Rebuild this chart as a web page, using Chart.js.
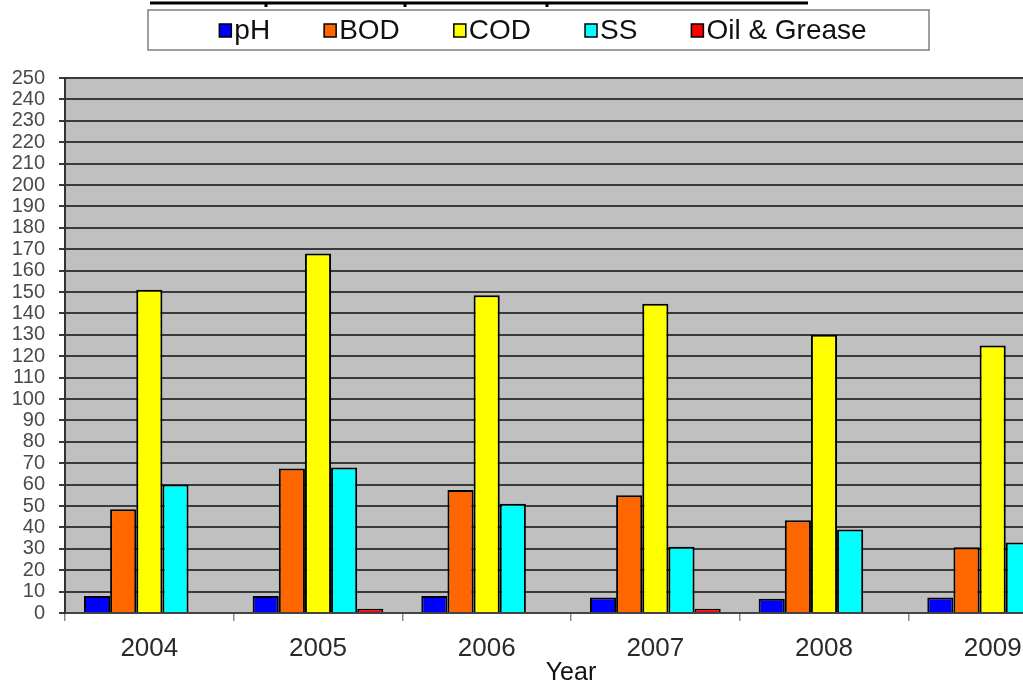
<!DOCTYPE html>
<html>
<head>
<meta charset="utf-8">
<script src="https://cdn.jsdelivr.net/npm/chart.js@4/dist/chart.umd.min.js"></script>
<style>
  html, body { margin: 0; padding: 0; background: #fff; overflow: hidden; }
  #wrap { width: 1080px; height: 688px; }
</style>
</head>
<body>
<div id="wrap"><canvas id="chart" width="1080" height="688"></canvas></div>
<script>
// data
const years = ['2004', '2005', '2006', '2007', '2008', '2009'];
const ph    = [8, 8, 8, 7.3, 6.7, 7.3];
const bod   = [48.5, 67.5, 57.5, 55, 43.3, 30.7];
const cod   = [151, 168, 148.5, 144.5, 130, 125];
const ss    = [60, 68, 51, 31, 39, 33];
const oil   = [0, 2, 0.3, 2, 0.3, 0];
const yTicks = [0, 10, 20, 30, 40, 50, 60, 70, 80, 90, 100, 110, 120, 130, 140, 150,
                160, 170, 180, 190, 200, 210, 220, 230, 240, 250];

const FONT = '"Liberation Sans", Arial, sans-serif';

// grey plot area + cut-off title underline
const fondo = {
    id: 'fondo',
    beforeDraw(chart) {
        const { ctx, chartArea: a } = chart;
        ctx.save();
        ctx.fillStyle = '#c0c0c0';
        ctx.fillRect(a.left, a.top, a.right - a.left, a.bottom - a.top);
        ctx.strokeStyle = '#000';
        ctx.lineWidth = 3;
        ctx.beginPath();
        ctx.moveTo(150, 3); ctx.lineTo(808, 3);
        [266, 405, 547].forEach(x => { ctx.moveTo(x, 3); ctx.lineTo(x, 7); });
        ctx.stroke();
        ctx.restore();
    }
};

// boxed legend with markers stuck to the text
const legenda = {
    id: 'legenda',
    afterDraw(chart) {
        const { ctx } = chart;
        ctx.save();
        ctx.fillStyle = '#fff';
        ctx.fillRect(148, 10, 781, 40);
        ctx.strokeStyle = '#7f7f7f';
        ctx.lineWidth = 1.5;
        ctx.strokeRect(148, 10, 781, 40);
        ctx.font = '28px ' + FONT;
        ctx.textBaseline = 'middle';
        const box = 12, gap = 3, space = 54;
        const sets = chart.data.datasets;
        const widths = sets.map(d => box + gap + ctx.measureText(d.label).width);
        const total = widths.reduce((s, w) => s + w, 0) + space * (sets.length - 1);
        let x = 543 - total / 2;
        sets.forEach((d, i) => {
            ctx.fillStyle = d.backgroundColor;
            ctx.fillRect(x, 24, box, 13);
            ctx.strokeStyle = '#000';
            ctx.lineWidth = 1.5;
            ctx.strokeRect(x, 24, box, 13);
            ctx.fillStyle = '#111';
            ctx.fillText(d.label, x + box + gap, 31);
            x += widths[i] + space;
        });
        ctx.restore();
    }
};

const serie = (label, data, color) => ({
    label, data, backgroundColor: color, borderColor: '#000', borderWidth: 2,
    barPercentage: 1, categoryPercentage: 0.775
});

new Chart(document.getElementById('chart'), {
    type: 'bar',
    data: {
        labels: years,
        datasets: [
            serie('pH', ph, '#0000ff'),
            serie('BOD', bod, '#ff6600'),
            serie('COD', cod, '#ffff00'),
            serie('SS', ss, '#00ffff'),
            serie('Oil & Grease', oil, '#ff0000')
        ]
    },
    options: {
        responsive: false,
        animation: false,
        layout: { padding: { top: 78, right: 3, left: 0, bottom: 0 } },
        plugins: { legend: { display: false }, tooltip: { enabled: false } },
        scales: {
            x: {
                grid: { offset: true, drawOnChartArea: false, color: '#888', tickLength: 8, lineWidth: 1.5 },
                border: { color: '#444', width: 2 },
                ticks: { font: { family: FONT, size: 26 }, color: '#2a2a2a', padding: 12 },
                title: { display: true, text: 'Year', font: { family: FONT, size: 25 }, color: '#111', padding: 0 },
                afterFit(s) { s.height = 75; }
            },
            y: {
                min: 0, max: 250,
                afterBuildTicks(s) { s.ticks = yTicks.map(v => ({ value: v })); },
                grid: { color: '#3a3a3a', lineWidth: 2, tickLength: 6 },
                border: { color: '#333', width: 2 },
                ticks: { font: { family: FONT, size: 20 }, color: '#4a4a4a', padding: 14, autoSkip: false },
                afterFit(s) { s.width = 65; }
            }
        }
    },
    plugins: [fondo, legenda]
});
</script>
</body>
</html>
